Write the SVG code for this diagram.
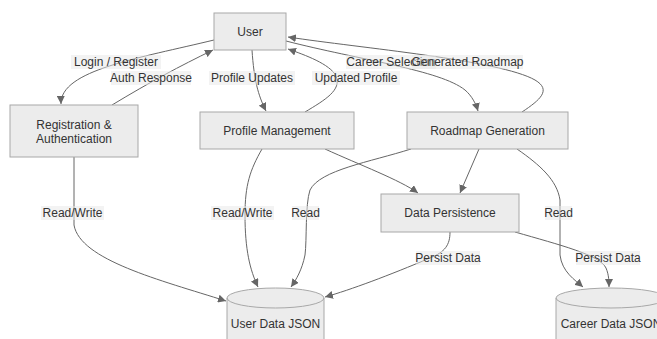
<svg xmlns="http://www.w3.org/2000/svg" width="657" height="339" viewBox="0 0 657 339">
<style>
.node rect,.node path.c{fill:#ececec;stroke:#a8a8a8;stroke-width:1}
.node text{font-family:"Liberation Sans",Arial,sans-serif;font-size:12px;fill:#333;text-anchor:middle;dominant-baseline:central}
.edges path{fill:none;stroke:#666;stroke-width:1}
.lbl rect{fill:#e8e8e8;opacity:0.5}
.lbl text{font-family:"Liberation Sans",Arial,sans-serif;font-size:12px;fill:#333;text-anchor:middle;dominant-baseline:central}
</style>
<defs>
<marker id="arr" viewBox="0 0 10 10" refX="10" refY="5" markerUnits="userSpaceOnUse" markerWidth="8" markerHeight="8" orient="auto">
<path d="M0,0 L10,5 L0,10 z" fill="#666"/>
</marker>
</defs>
<rect width="657" height="339" fill="#fff"/>
<g class="edges">
<path d="M214,40 C140,58 60,70 61,104" marker-end="url(#arr)"/>
<path d="M112,105 C150,82 180,66 213,50" marker-end="url(#arr)"/>
<path d="M252,50 C254,80 258,95 266,111" marker-end="url(#arr)"/>
<path d="M305,112 C325,100 342,90 336,76 C330,64 305,55 288,49" marker-end="url(#arr)"/>
<path d="M286,41 C360,60 440,70 465,90 C472,96 476,104 478,111" marker-end="url(#arr)"/>
<path d="M522,112 C540,100 552,90 535,80 C500,60 360,48 288,37" marker-end="url(#arr)"/>
<path d="M74,157 L74,225 C80,260 160,280 226,301" marker-end="url(#arr)"/>
<path d="M262,149 C250,170 245,185 245,215 C245,250 250,270 258,287" marker-end="url(#arr)"/>
<path d="M411,149 C370,162 320,170 310,190 C305,205 307,240 305,255 C302,270 296,280 291,287" marker-end="url(#arr)"/>
<path d="M325,149 C360,165 400,180 418,193" marker-end="url(#arr)"/>
<path d="M479,149 L460,193" marker-end="url(#arr)"/>
<path d="M517,149 C540,165 557,180 560,200 L560,255 C562,272 575,280 583,287" marker-end="url(#arr)"/>
<path d="M450,232 C450,245 445,252 430,258 C390,275 350,290 325,297" marker-end="url(#arr)"/>
<path d="M515,232 C560,245 600,255 606,268 C609,275 609,282 609,287" marker-end="url(#arr)"/>
</g>
<g class="lbl">
<rect x="71" y="55" width="90" height="14"/><text x="116" y="62">Login / Register</text>
<rect x="111" y="71" width="80" height="14"/><text x="151" y="78">Auth Response</text>
<rect x="209" y="71" width="86" height="14"/><text x="252" y="78">Profile Updates</text>
<rect x="312" y="71" width="88" height="14"/><text x="356" y="78">Updated Profile</text>
<rect x="346" y="55" width="90" height="14"/><text x="391" y="62">Career Selection</text>
<rect x="412" y="55" width="111" height="14"/><text x="467.5" y="62">Generated Roadmap</text>
<rect x="41" y="206" width="63" height="14"/><text x="72.5" y="213">Read/Write</text>
<rect x="211" y="206" width="63" height="14"/><text x="242.5" y="213">Read/Write</text>
<rect x="292" y="206" width="27" height="14"/><text x="305.5" y="213">Read</text>
<rect x="545" y="206" width="27" height="14"/><text x="558.5" y="213">Read</text>
<rect x="416" y="251" width="64" height="14"/><text x="448" y="258">Persist Data</text>
<rect x="576" y="251" width="64" height="14"/><text x="608" y="258">Persist Data</text>
</g>
<g id="user" class="node"><rect x="214" y="13" width="72" height="37"/><text x="250" y="31.5">User</text></g>
<g id="reg" class="node"><rect x="10" y="105" width="128" height="52"/><text x="74" y="125">Registration &amp;</text><text x="74" y="139">Authentication</text></g>
<g id="profile" class="node"><rect x="200" y="112" width="154" height="37"/><text x="277" y="131">Profile Management</text></g>
<g id="roadmap" class="node"><rect x="407" y="112" width="161" height="37"/><text x="487.5" y="131">Roadmap Generation</text></g>
<g id="persist" class="node"><rect x="381" y="194" width="138" height="38"/><text x="450" y="213">Data Persistence</text></g>
<g id="userdata" class="node"><path class="c" d="M227,298 A48.5,10 0 0 1 324,298 L324,350 A48.5,10 0 0 1 227,350 Z"/><path d="M227,298 A48.5,10 0 0 0 324,298" fill="none" stroke="#a8a8a8"/><text x="275.5" y="324">User Data JSON</text></g>
<g id="careerdata" class="node"><path class="c" d="M556,298 A55,10 0 0 1 666,298 L666,350 A55,10 0 0 1 556,350 Z"/><path d="M556,298 A55,10 0 0 0 666,298" fill="none" stroke="#a8a8a8"/><text x="611" y="324">Career Data JSON</text></g>
</svg>
